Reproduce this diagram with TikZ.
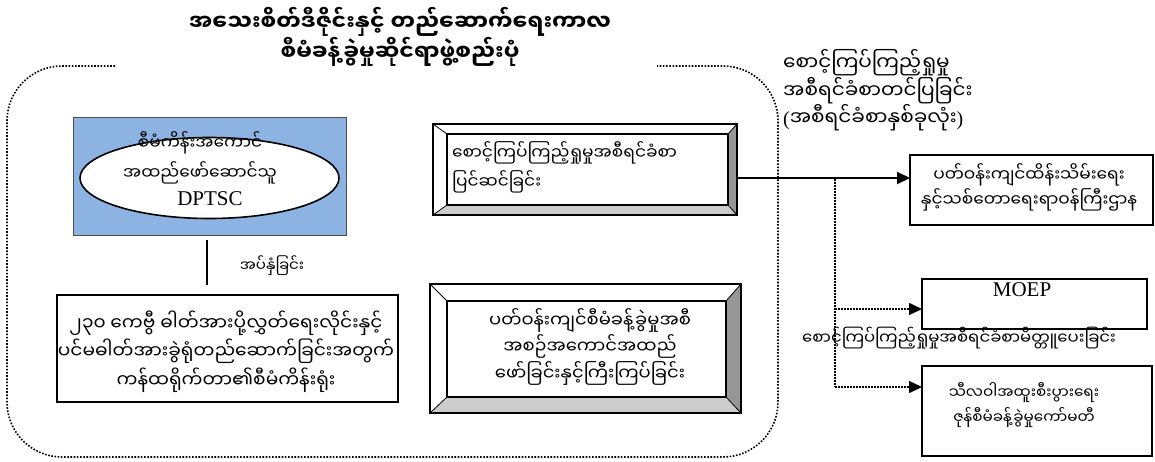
\documentclass[tikz,border=0pt]{standalone}
\usepackage{fontspec}
\setmainfont{Liberation Serif}
\newfontfamily\mya[Script=Myanmar]{Noto Sans Myanmar UI}
\usetikzlibrary{shapes.geometric,arrows.meta,calc}
\definecolor{dpblue}{RGB}{141,179,226}
\definecolor{bevdark}{RGB}{150,150,150}
\definecolor{bevlight}{RGB}{204,204,204}
\newcommand\bevelize[5]{%
 \coordinate (#1-a) at ($(#1.north west)+(#2,#3)$);
 \coordinate (#1-c) at ($(#1.south east)+(-#4,-#5)$);
 \coordinate (#1-b) at (#1-c |- #1-a);
 \coordinate (#1-d) at (#1-a |- #1-c);
 \fill[white] (#1.north west) rectangle (#1.south east);
 \fill[bevdark] (#1.north east) -- (#1.south east) -- (#1-c) -- (#1-b) -- cycle;
 \fill[bevlight] (#1.south west) -- (#1.south east) -- (#1-c) -- (#1-d) -- cycle;
 \draw[line width=0.8pt] (#1.north west)--(#1-a) (#1.north east)--(#1-b) (#1.south east)--(#1-c) (#1.south west)--(#1-d);
 \draw[line width=1.6pt] (#1-a) rectangle (#1-c);
 \draw[line width=1.6pt] (#1.north west) rectangle (#1.south east);
}
\newcommand\msize[2]{\mya\fontsize{#1}{#2}\selectfont}
\begin{document}
\begin{tikzpicture}[x=1pt,y=-1pt,
  mtext/.style={align=center, inner sep=0pt},
  plainbox/.style={draw, line width=1.6pt, inner sep=0pt, outer sep=0pt},
  framedots/.style={line width=1.6pt, dash pattern=on 1.6pt off 1.6pt},
  flowdot/.style={line width=1.6pt, dash pattern=on 1.6pt off 1.4pt},
  tip/.style={-{Triangle[length=13pt,width=12pt]}},
  latin/.style={font=\fontsize{21}{24}\selectfont, inner sep=0pt}
]
\useasboundingbox (0,0) rectangle (1155,462);
% title
\node[mtext, font=\mya\bfseries\fontsize{22}{30}\selectfont] (title) at (400,37)
  {အသေးစိတ်ဒီဇိုင်းနှင့် တည်ဆောက်ရေးကာလ\\စီမံခန့်ခွဲမှုဆိုင်ရာဖွဲ့စည်းပုံ};
% dotted frame
\draw[framedots, rounded corners=55pt] (115,66) -- (7,66) -- (7,457) -- (778,457) -- (778,66) -- (657,66);
% DPTSC
\node[draw=black!70, line width=1pt, fill=dpblue, minimum width=273, minimum height=117, outer sep=0pt] (pb) at (209.5,176.5) {};
\node[ellipse, draw, fill=white, line width=1.6pt, minimum width=259, minimum height=81, inner sep=0pt] (el) at (209.5,178) {};
\node[mtext, font=\msize{17}{30}] (elt) at (200,158) {စီမံကိန်းအကောင်\\အထည်ဖော်ဆောင်သူ};
\node[latin] (elt3) at (210,199) {DPTSC};
% link
\coordinate (v1) at (207,240);
\coordinate (v2) at (207,285);
\draw[line width=2pt] (v1) -- (v2);
\node[mtext, font=\msize{15}{26}] (lab1) at (272,266) {အပ်နှံခြင်း};
% contractor office
\node[plainbox, minimum width=341, minimum height=107] (ct) at (227.5,348.5) {};
\node[mtext, font=\msize{18.6}{28.5}] (ctt) at (226,351.5)
  {၂၃၀ ကေဗွီ ဓါတ်အားပို့လွှတ်ရေးလိုင်းနှင့်\\ပင်မဓါတ်အားခွဲရုံတည်ဆောက်ခြင်းအတွက်\\ကန်ထရိုက်တာ၏စီမံကိန်းရုံး};
% bevel box 1
\node[minimum width=304, minimum height=91, inner sep=0pt, outer sep=0pt] (b1) at (585,169.5) {};
\bevelize{b1}{14}{10}{9}{10}
\node[mtext, font=\msize{17}{29}, align=left, anchor=west] (b1t) at (452,167.5) {စောင့်ကြပ်ကြည့်ရှုမှုအစီရင်ခံစာ\\ပြင်ဆင်ခြင်း};
% bevel box 2
\node[minimum width=311, minimum height=129, inner sep=0pt, outer sep=0pt] (b2) at (585.5,348.5) {};
\bevelize{b2}{17}{17}{15}{16}
\node[mtext, font=\msize{18}{26.5}] (b2t) at (590,346.5) {ပတ်ဝန်းကျင်စီမံခန့်ခွဲမှုအစီ\\အစဉ်အကောင်အထည်\\ဖော်ခြင်းနှင့်ကြီးကြပ်ခြင်း};
% right boxes
\node[plainbox, minimum width=243, minimum height=70] (r1) at (1031.5,190) {};
\node[mtext, font=\msize{17}{25}] (r1t) at (1029,187.5) {ပတ်ဝန်းကျင်ထိန်းသိမ်းရေး\\နှင့်သစ်တောရေးရာဝန်ကြီးဌာန};
\node[plainbox, minimum width=225, minimum height=50] (r2) at (1034.5,304) {};
\node[latin, anchor=north] (r2t) at (1022,282) {MOEP};
\node[plainbox, minimum width=230, minimum height=90] (r3) at (1037,411) {};
\node[mtext, font=\msize{15.2}{25}] (r3t) at (1024,405.5) {သီလဝါအထူးစီးပွားရေး\\ဇုန်စီမံခန့်ခွဲမှုကော်မတီ};
% labels
\node[mtext, font=\msize{20}{27.5}, align=left, anchor=west] (lab3) at (783,90.5) {စောင့်ကြပ်ကြည့်ရှုမှု\\အစီရင်ခံစာတင်ပြခြင်း\\\textrm{(}အစီရင်ခံစာနှစ်ခုလုံး\textrm{)}};
\node[mtext, font=\msize{16.5}{25}] (lab2) at (959,338) {စောင့်ကြပ်ကြည့်ရှုမှုအစီရင်ခံစာမိတ္တူပေးခြင်း};
% connectors
\coordinate (a0) at (b1.east |- 0,178);
\coordinate (jn) at (835,178);
\coordinate (m2) at (835,309);
\coordinate (m3) at (835,387);
\draw[flowdot] (a0) -- (jn) -- (m3);
\draw[flowdot, tip] (m2) -- (m2 -| r2.west);
\draw[flowdot, tip] (m3) -- (m3 -| r3.west);
\draw[line width=2pt, tip] (a0) -- (a0 -| r1.west);
\end{tikzpicture}
\end{document}
